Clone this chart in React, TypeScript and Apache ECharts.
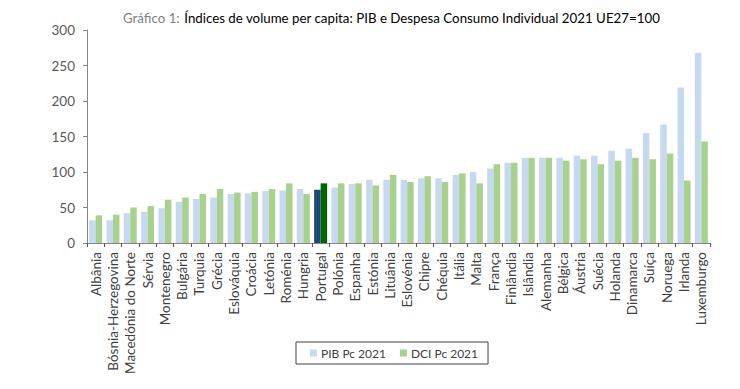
import React, { useEffect, useRef } from "react";
import * as echarts from "echarts";

const categories = [
  "Albânia", "Bósnia-Herzegovina", "Macedónia do Norte", "Sérvia", "Montenegro", "Bulgária",
  "Turquia", "Grécia", "Eslováquia", "Croácia", "Letónia", "Roménia", "Hungria", "Portugal",
  "Polónia", "Espanha", "Estónia", "Lituânia", "Eslovénia", "Chipre", "Chéquia", "Itália",
  "Malta", "França", "Finlândia", "Islândia", "Alemanha", "Bélgica", "Áustria", "Suécia",
  "Holanda", "Dinamarca", "Suíça", "Noruega", "Irlanda", "Luxemburgo",
];

const pibValues = [
  32, 32, 42, 44, 49, 58, 62, 64, 69, 70, 73, 74, 76, 75, 78, 83, 89, 89, 89, 91, 91, 96,
  100, 105, 113, 120, 120, 120, 123, 123, 130, 133, 155, 167, 219, 268,
];

const dciValues = [
  39, 40, 50, 52, 61, 64, 69, 76, 71, 72, 76, 84, 69, 84, 84, 84, 81, 96, 86, 94, 86, 98,
  84, 111, 113, 120, 120, 116, 118, 111, 116, 120, 118, 126, 88, 143,
];

const yTicks = { min: 0, max: 300, interval: 50 };
const highlight = "Portugal";

const FONT = "Lato, 'Noto Sans', sans-serif";

export default function App() {
  const ref = useRef<HTMLDivElement>(null);

  useEffect(() => {
    if (!ref.current) return;
    const chart = echarts.init(ref.current, undefined, { renderer: "svg" });
    const mk = (vals: number[], hiColor: string) =>
      vals.map((v, i) =>
        categories[i] === highlight ? { value: v, itemStyle: { color: hiColor } } : v
      );
    chart.setOption({
      animation: false,
      textStyle: { fontFamily: FONT },
      title: {
        text: "{g|Gráfico 1:} {b|Índices de volume per capita: PIB e Despesa Consumo Individual 2021 UE27=100}",
        left: 118,
        top: 4,
        textStyle: {
          fontWeight: "normal",
          rich: {
            g: { color: "#7f7f7f", fontSize: 13.3, fontWeight: "normal", fontFamily: FONT },
            b: { color: "#000000", fontSize: 13.3, fontWeight: "normal", fontFamily: FONT },
          },
        },
      },
      grid: { left: 87, right: 30, top: 30, bottom: 146, containLabel: false },
      legend: {
        left: 296,
        top: 342,
        icon: "rect",
        itemWidth: 7,
        itemHeight: 7,
        itemGap: 14,
        padding: [5, 10, 5, 14],
        borderColor: "#404040",
        borderWidth: 1,
        textStyle: { fontSize: 12, color: "#404040", fontFamily: FONT, padding: [0, 0, 0, -1] },
        data: ["PIB Pc 2021", "DCI Pc 2021"],
      },
      xAxis: {
        type: "category",
        data: categories,
        boundaryGap: true,
        axisLine: { lineStyle: { color: "#868686" } },
        axisTick: { show: true, length: 4, lineStyle: { color: "#595959" } },
        axisLabel: {
          rotate: 90,
          interval: 0,
          fontSize: 13.5,
          color: "#404040",
          margin: 9,
          fontFamily: FONT,
        },
      },
      yAxis: {
        type: "value",
        min: yTicks.min,
        max: yTicks.max,
        interval: yTicks.interval,
        splitLine: { show: false },
        axisLine: { show: true, lineStyle: { color: "#868686" } },
        axisTick: { show: true, length: 4, lineStyle: { color: "#868686" } },
        axisLabel: { fontSize: 13.5, color: "#595959", margin: 12, fontFamily: FONT },
      },
      series: [
        {
          name: "PIB Pc 2021",
          type: "bar",
          data: mk(pibValues, "#1f497d"),
          barWidth: 6.5,
          barGap: "0%",
          itemStyle: { color: "#c6d9f1" },
        },
        {
          name: "DCI Pc 2021",
          type: "bar",
          data: mk(dciValues, "#006600"),
          barWidth: 6.5,
          itemStyle: { color: "#a9d18e" },
        },
      ],
    });
    return () => chart.dispose();
  }, []);

  return <div ref={ref} style={{ width: 740, height: 389, margin: -8 }} />;
}
